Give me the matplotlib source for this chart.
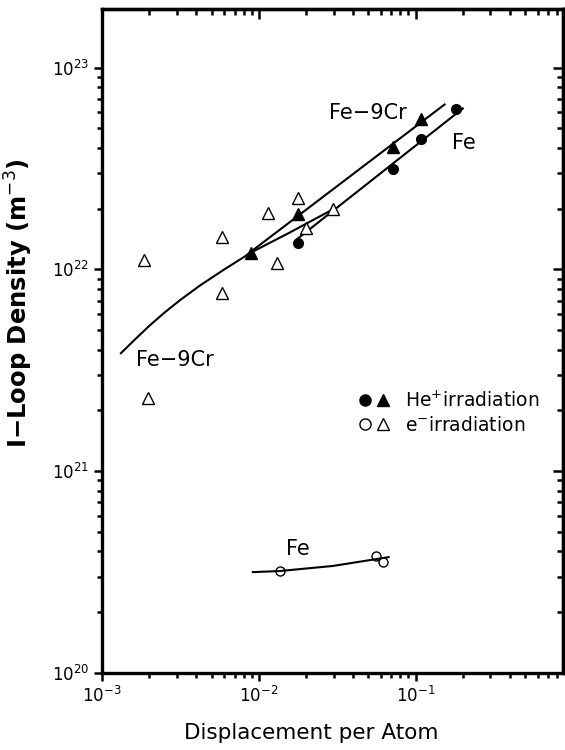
import matplotlib
matplotlib.use("Agg")
import matplotlib.pyplot as plt
from matplotlib.ticker import NullFormatter, LogLocator
from matplotlib.legend_handler import HandlerTuple

plt.rcParams['font.family'] = ['DejaVu Sans']

# He+ irradiation, Fe (filled circles)
he_fe_dpa = [0.0177, 0.0713, 0.108, 0.18]
he_fe_dens = [1.35e22, 3.13e22, 4.4e22, 6.2e22]

# He+ irradiation, Fe-9Cr (filled triangles)
he_cr_dpa = [0.0089, 0.0177, 0.0713, 0.109]
he_cr_dens = [1.21e22, 1.89e22, 4.06e22, 5.53e22]

# e- irradiation, Fe-9Cr (open triangles)
e_cr_dpa = [0.00185, 0.00196, 0.0058, 0.0058, 0.0114, 0.0130, 0.0177, 0.0199, 0.0296]
e_cr_dens = [1.11e22, 2.3e21, 1.44e22, 7.6e21, 1.91e22, 1.07e22, 2.25e22, 1.61e22, 1.98e22]

# e- irradiation, Fe (open circles)
e_fe_dpa = [0.0136, 0.0556, 0.0617]
e_fe_dens = [3.2e20, 3.8e20, 3.55e20]

# fitted curves
fit_he_fe_x = [0.0177, 0.2]
fit_he_fe_y = [1.42e22, 6.27e22]
fit_he_cr_x = [0.0085, 0.153]
fit_he_cr_y = [1.19e22, 6.56e22]
fit_e_cr_x = [0.00132, 0.00165, 0.00202, 0.0025, 0.00314, 0.0042, 0.0059, 0.0089, 0.0157, 0.0296]
fit_e_cr_y = [3.84e21, 4.55e21, 5.28e21, 6.1e21, 7.03e21, 8.3e21, 9.89e21, 1.21e22, 1.52e22, 1.98e22]
fit_e_fe_x = [0.00916, 0.0136, 0.0296, 0.0673]
fit_e_fe_y = [3.16e20, 3.2e20, 3.39e20, 3.75e20]

fig = plt.figure(figsize=(5.65, 7.5), dpi=100)
ax = fig.add_axes([0.1805, 0.1027, 0.8159, 0.8853])
ax.set_xscale('log')
ax.set_yscale('log')
ax.set_xlim(1e-3, 0.87)
ax.set_ylim(1e20, 1.95e23)

lw = 1.5
ax.plot(fit_he_fe_x, fit_he_fe_y, color='black', lw=lw)
ax.plot(fit_he_cr_x, fit_he_cr_y, color='black', lw=lw)
ax.plot(fit_e_cr_x, fit_e_cr_y, color='black', lw=lw)
ax.plot(fit_e_fe_x, fit_e_fe_y, color='black', lw=lw)

ax.plot(he_fe_dpa, he_fe_dens, 'o', color='black', ms=7, ls='none')
ax.plot(he_cr_dpa, he_cr_dens, '^', color='black', ms=8, ls='none')
ax.plot(e_cr_dpa, e_cr_dens, '^', mfc='white', mec='black', mew=1.0, ms=8.5, ls='none')
ax.plot(e_fe_dpa, e_fe_dens, 'o', mfc='none', mec='black', mew=1.0, ms=6.5, ls='none')

ax.text(0.0494, 5.92e22, 'Fe\u22129Cr', fontsize=15, ha='center', va='center')
ax.text(0.202, 4.25e22, 'Fe', fontsize=15, ha='center', va='center')
ax.text(0.00292, 3.54e21, 'Fe\u22129Cr', fontsize=15, ha='center', va='center')
ax.text(0.0177, 4.11e20, 'Fe', fontsize=15, ha='center', va='center')

# legend handles (bigger markers than in the plot)
lc1, = ax.plot([], [], 'o', color='black', ms=8)
lt1, = ax.plot([], [], '^', color='black', ms=8)
lc2, = ax.plot([], [], 'o', mfc='white', mec='black', mew=1.0, ms=8)
lt2, = ax.plot([], [], '^', mfc='white', mec='black', mew=1.0, ms=8.5)
ax.legend([(lc1, lt1), (lc2, lt2)], ['He$^{+}$irradiation', 'e$^{-}$irradiation'],
          handler_map={tuple: HandlerTuple(ndivide=None, pad=0.2)},
          loc='upper left', bbox_to_anchor=(0.555, 0.425), frameon=False,
          fontsize=13.5, handlelength=1.7, handletextpad=0.8, labelspacing=0.25,
          borderpad=0, borderaxespad=0)

for sp in ax.spines.values():
    sp.set_linewidth(2.4)

ax.tick_params(which='major', direction='out', length=6, width=1.8, labelsize=12, pad=3)
ax.tick_params(which='minor', direction='out', length=3.5, width=1.8)
ax.yaxis.set_minor_locator(LogLocator(base=10, subs=range(2, 10)))
ax.xaxis.set_minor_locator(LogLocator(base=10, subs=range(2, 10)))
ax.xaxis.set_minor_formatter(NullFormatter())
ax.yaxis.set_minor_formatter(NullFormatter())

top = ax.secondary_xaxis('top')
top.tick_params(which='major', direction='in', length=7, width=1.8, labeltop=False)
top.tick_params(which='minor', direction='in', length=4, width=1.8)
top.xaxis.set_minor_locator(LogLocator(base=10, subs=range(2, 10)))
top.xaxis.set_major_formatter(NullFormatter())
top.xaxis.set_minor_formatter(NullFormatter())
top.spines['top'].set_linewidth(2.4)

right = ax.secondary_yaxis('right')
right.tick_params(which='major', direction='in', length=7, width=1.8, labelright=False)
right.tick_params(which='minor', direction='in', length=4, width=1.8)
right.yaxis.set_minor_locator(LogLocator(base=10, subs=range(2, 10)))
right.yaxis.set_major_formatter(NullFormatter())
right.yaxis.set_minor_formatter(NullFormatter())
right.spines['right'].set_linewidth(2.4)

ax.set_xlabel('Displacement per Atom', fontsize=15.5)
ax.set_ylabel('I\u2212Loop Density (m$^{-3}$)', fontsize=17.5, fontweight='bold')
ax.xaxis.set_label_coords(0.454, -0.075)
ax.yaxis.set_label_coords(-0.145, 0.557)

fig.savefig('out.png', dpi=100)
